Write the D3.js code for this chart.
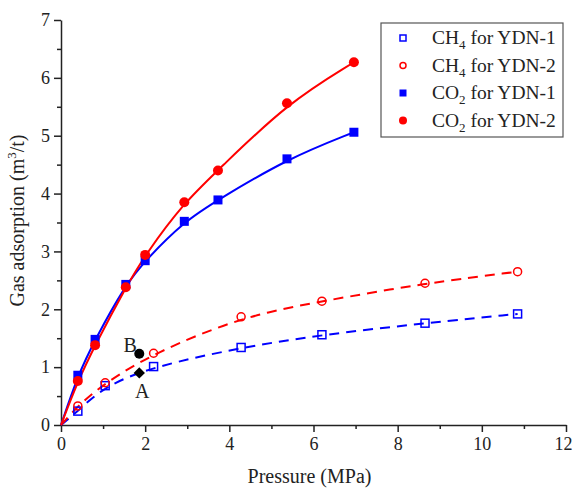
<!DOCTYPE html>
<html>
<head>
<meta charset="utf-8">
<script src="https://cdn.jsdelivr.net/npm/d3@7"></script>
<style>
  body { margin: 0; background: #fff; }
  svg text { font-family: "Liberation Serif", "Times New Roman", serif; }
</style>
</head>
<body>
<div id="chart"></div>
<script>
// data
var co2Pressure = [0.40, 0.81, 1.54, 2.00, 2.93, 3.73, 5.37, 6.96];
var co2YDN1 = [0.86, 1.48, 2.43, 2.84, 3.52, 3.89, 4.60, 5.06];
var co2YDN2 = [0.76, 1.38, 2.38, 2.94, 3.85, 4.40, 5.56, 6.27];

var ch4Pressure = [0.40, 1.05, 2.20, 4.28, 6.20, 8.65, 10.85];
var ch4YDN1 = [0.24, 0.68, 1.01, 1.34, 1.56, 1.76, 1.92];
var ch4YDN2 = [0.33, 0.73, 1.24, 1.87, 2.14, 2.45, 2.65];

var pointA = {x: 1.86, y: 0.90};
var pointB = {x: 1.86, y: 1.23};

var xTicks = [0, 2, 4, 6, 8, 10, 12];
var yTicks = [0, 1, 2, 3, 4, 5, 6, 7];

// set the dimensions and margins of the graph
var margin = {top: 20, right: 7, bottom: 65, left: 61},
    width = 573 - margin.left - margin.right,
    height = 490 - margin.top - margin.bottom;

var svg = d3.select("#chart")
  .append("svg")
    .attr("width", 573)
    .attr("height", 490)
    .attr("font-family", "Liberation Serif")
  .append("g")
    .attr("transform", "translate(" + margin.left + "," + margin.top + ")");

var x = d3.scaleLinear().domain([0, 12]).range([0, width]);
var y = d3.scaleLinear().domain([0, 7]).range([height, 0]);

// minor ticks
svg.append("g")
  .attr("transform", "translate(0," + height + ")")
  .call(d3.axisBottom(x).tickValues(d3.range(1, 12, 2)).tickSize(4).tickFormat(""))
  .call(function(g) { g.select(".domain").remove(); });
svg.append("g")
  .call(d3.axisLeft(y).tickValues(d3.range(0.5, 7, 1)).tickSize(4).tickFormat(""))
  .call(function(g) { g.select(".domain").remove(); });

// X axis
svg.append("g")
  .attr("transform", "translate(0," + height + ")")
  .call(d3.axisBottom(x).tickValues(xTicks).tickSize(7).tickSizeOuter(0).tickPadding(5).tickFormat(d3.format("d")))
  .call(function(g) {
    // keep the last label inside the window
    g.selectAll(".tick text").filter(function(d) { return d === 12; }).attr("dx", -3);
  });
// Y axis
svg.append("g")
  .call(d3.axisLeft(y).tickValues(yTicks).tickSize(7).tickSizeOuter(0).tickPadding(4).tickFormat(d3.format("d")));

svg.selectAll(".tick text")
  .attr("font-family", "Liberation Serif")
  .style("font-size", "18px")
  .attr("fill", "#222");
svg.selectAll(".domain, .tick line")
  .attr("stroke", "#222")
  .attr("stroke-width", 1.5);

// axis labels
svg.append("text")
  .attr("x", width / 2 - 4)
  .attr("y", height + 58)
  .attr("text-anchor", "middle")
  .style("font-size", "20px")
  .attr("fill", "#222")
  .text("Pressure (MPa)");

var yl = svg.append("text")
  .attr("transform", "translate(" + (-37) + "," + (height / 2 - 2) + ") rotate(-90)")
  .attr("text-anchor", "middle")
  .style("font-size", "20px")
  .attr("fill", "#222");
yl.append("tspan").text("Gas adsorption (m");
yl.append("tspan").attr("dy", -8).style("font-size", "13px").text("3");
yl.append("tspan").attr("dy", 8).text("/t)");

// curves start at origin and are smoothed through the points
function curvePts(px, py) {
  var pts = [[0, 0]];
  px.forEach(function(d, i) { pts.push([d, py[i]]); });
  return pts;
}
var line = d3.line()
  .x(function(d) { return x(d[0]); })
  .y(function(d) { return y(d[1]); })
  .curve(d3.curveBasis);

var series = [
  {px: ch4Pressure, py: ch4YDN1, color: "#0000ff", dash: "10,7", marker: "square", fill: false},
  {px: ch4Pressure, py: ch4YDN2, color: "#ff0000", dash: "10,7", marker: "circle", fill: false},
  {px: co2Pressure, py: co2YDN1, color: "#0000ff", dash: null, marker: "square", fill: true},
  {px: co2Pressure, py: co2YDN2, color: "#ff0000", dash: null, marker: "circle", fill: true}
];

series.forEach(function(s) {
  svg.append("path")
    .datum(curvePts(s.px, s.py))
    .attr("fill", "none")
    .attr("stroke", s.color)
    .attr("stroke-width", 2)
    .attr("stroke-dasharray", s.dash)
    .attr("d", line);
});

function drawMarker(g, s, cx, cy, size) {
  if (s.marker === "square") {
    g.append("rect")
      .attr("x", cx - size / 2).attr("y", cy - size / 2)
      .attr("width", size).attr("height", size)
      .attr("fill", s.fill ? s.color : "none")
      .attr("stroke", s.color)
      .attr("stroke-width", s.fill ? 0 : 1.5);
  } else {
    g.append("circle")
      .attr("cx", cx).attr("cy", cy)
      .attr("r", s.fill ? size / 2 + 0.5 : size / 2)
      .attr("fill", s.fill ? s.color : "none")
      .attr("stroke", s.color)
      .attr("stroke-width", s.fill ? 0 : 1.5);
  }
}

series.forEach(function(s) {
  var g = svg.append("g");
  s.px.forEach(function(d, i) {
    drawMarker(g, s, x(d), y(s.py[i]), s.fill ? 9 : 8);
  });
});

// points A and B
svg.append("rect")
  .attr("x", -4).attr("y", -4)
  .attr("width", 8).attr("height", 8)
  .attr("transform", "translate(" + x(pointA.x) + "," + y(pointA.y) + ") rotate(45)")
  .attr("fill", "#000");
svg.append("circle")
  .attr("cx", x(pointB.x)).attr("cy", y(pointB.y))
  .attr("r", 5)
  .attr("fill", "#000");
svg.append("text")
  .attr("x", x(pointA.x) + 3).attr("y", y(pointA.y) + 25)
  .attr("text-anchor", "middle")
  .style("font-size", "20px")
  .attr("fill", "#222")
  .text("A");
svg.append("text")
  .attr("x", x(pointB.x) - 9).attr("y", y(pointB.y) - 2)
  .attr("text-anchor", "middle")
  .style("font-size", "20px")
  .attr("fill", "#222")
  .text("B");

// legend
var legend = svg.append("g").attr("transform", "translate(" + (381 - margin.left) + "," + (23 - margin.top) + ")");
legend.append("rect")
  .attr("width", 182).attr("height", 114)
  .attr("fill", "#fff")
  .attr("stroke", "#555")
  .attr("stroke-width", 1.2);

var legendNames = [["CH", "4", " for YDN-1"], ["CH", "4", " for YDN-2"], ["CO", "2", " for YDN-1"], ["CO", "2", " for YDN-2"]];
series.forEach(function(s, i) {
  var ly = 15 + i * 27.5;
  drawMarker(legend, s, 22, ly, s.fill ? 7 : 6);
  var t = legend.append("text")
    .attr("x", 51).attr("y", ly + 6)
    .style("font-size", "19.5px")
    .attr("fill", "#222");
  t.append("tspan").text(legendNames[i][0]);
  t.append("tspan").attr("dy", 5).style("font-size", "13px").text(legendNames[i][1]);
  t.append("tspan").attr("dy", -5).text(legendNames[i][2]);
});
</script>
</body>
</html>
